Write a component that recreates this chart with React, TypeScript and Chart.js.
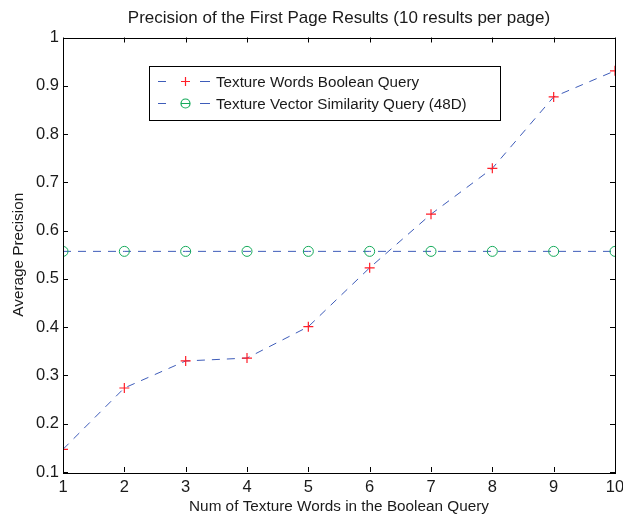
import React, { useEffect, useRef } from "react";
import { Chart, registerables } from "chart.js";

Chart.register(...registerables);

const xValues = [1, 2, 3, 4, 5, 6, 7, 8, 9, 10];
const booleanQuery = [0.147, 0.274, 0.33, 0.336, 0.401, 0.523, 0.634, 0.729, 0.877, 0.931];
const vectorQuery = [0.557, 0.557, 0.557, 0.557, 0.557, 0.557, 0.557, 0.557, 0.557, 0.557];
const yTickLabels = ["0.1", "0.2", "0.3", "0.4", "0.5", "0.6", "0.7", "0.8", "0.9", "1"];
const seriesNames = ["Texture Words Boolean Query", "Texture Vector Similarity Query (48D)"];
const titleText = "Precision of the First Page Results (10 results per page)";
const xTitle = "Num of Texture Words in the Boolean Query";
const yTitle = "Average Precision";

const FONT = "'Liberation Sans', Arial, sans-serif";
const TEXT = "#1a1a1a";
const BLUE = "rgb(62,92,185)";
const RED = "rgb(255,30,40)";
const GREEN = "rgb(20,170,90)";

const frame = {
  id: "matlabFrame",
  afterDraw(chart: any) {
    const { ctx, chartArea } = chart;
    const xs = chart.scales.x;
    const ys = chart.scales.y;
    ctx.save();
    ctx.setLineDash([]);

    // title centred over the plot area
    ctx.fillStyle = TEXT;
    ctx.font = `17px ${FONT}`;
    ctx.textAlign = "center";
    ctx.textBaseline = "middle";
    ctx.fillText(titleText, (chartArea.left + chartArea.right) / 2, 18.5);

    ctx.strokeStyle = "#000";
    ctx.lineWidth = 1;
    ctx.strokeRect(Math.round(chartArea.left) + 0.5, Math.round(chartArea.top) + 0.5,
      Math.round(chartArea.right - chartArea.left), Math.round(chartArea.bottom - chartArea.top));
    const tl = 5;
    ctx.beginPath();
    xValues.forEach((v) => {
      const px = Math.round(xs.getPixelForValue(v)) + 0.5;
      ctx.moveTo(px, chartArea.bottom);
      ctx.lineTo(px, chartArea.bottom - tl);
      ctx.moveTo(px, chartArea.top);
      ctx.lineTo(px, chartArea.top + tl);
    });
    yTickLabels.forEach((l) => {
      const py = Math.round(ys.getPixelForValue(parseFloat(l))) + 0.5;
      ctx.moveTo(chartArea.left, py);
      ctx.lineTo(chartArea.left + tl, py);
      ctx.moveTo(chartArea.right, py);
      ctx.lineTo(chartArea.right - tl, py);
    });
    ctx.stroke();

    // legend box
    const bx = 149.5, by = 66.5, bw = 351, bh = 54;
    ctx.fillStyle = "#fff";
    ctx.fillRect(bx, by, bw, bh);
    ctx.strokeStyle = "#000";
    ctx.strokeRect(bx, by, bw, bh);
    const rows = [81.5, 103.5];
    rows.forEach((ry, i) => {
      ctx.strokeStyle = BLUE;
      ctx.lineWidth = 1.2;
      ctx.beginPath();
      ctx.moveTo(158, ry); ctx.lineTo(166, ry);
      ctx.moveTo(200, ry); ctx.lineTo(210, ry);
      ctx.stroke();
      const mx = 185.5;
      if (i === 0) {
        ctx.strokeStyle = RED;
        ctx.beginPath();
        ctx.moveTo(mx - 4.5, ry); ctx.lineTo(mx + 4.5, ry);
        ctx.moveTo(mx, ry - 4.5); ctx.lineTo(mx, ry + 4.5);
        ctx.stroke();
      } else {
        ctx.strokeStyle = GREEN;
        ctx.beginPath();
        ctx.arc(mx, ry, 4.5, 0, Math.PI * 2);
        ctx.moveTo(mx - 4.5, ry); ctx.lineTo(mx + 4.5, ry);
        ctx.stroke();
      }
      ctx.fillStyle = TEXT;
      ctx.font = `15.2px ${FONT}`;
      ctx.textBaseline = "middle";
      ctx.textAlign = "left";
      ctx.fillText(seriesNames[i], 216, ry + 1);
    });
    ctx.restore();
  },
};

export default function App() {
  const ref = useRef<HTMLCanvasElement | null>(null);
  useEffect(() => {
    document.body.style.margin = "0";
    const canvas = ref.current!;
    const chart = new Chart(canvas, {
      type: "line",
      data: {
        datasets: [
          {
            label: seriesNames[0],
            data: xValues.map((x, i) => ({ x, y: booleanQuery[i] })),
            borderColor: BLUE,
            borderWidth: 1,
            borderDash: [8, 7],
            pointStyle: "cross",
            pointRadius: 5,
            pointBorderColor: RED,
            pointBorderWidth: 1.2,
            pointBackgroundColor: RED,
            fill: false,
            tension: 0,
          },
          {
            label: seriesNames[1],
            data: xValues.map((x, i) => ({ x, y: vectorQuery[i] })),
            borderColor: BLUE,
            borderWidth: 1,
            borderDash: [8, 7],
            pointStyle: "circle",
            pointRadius: 5,
            pointBorderColor: GREEN,
            pointBorderWidth: 1,
            pointBackgroundColor: "rgba(0,0,0,0)",
            fill: false,
            tension: 0,
          },
        ],
      },
      plugins: [frame],
      options: {
        animation: false,
        responsive: false,
        maintainAspectRatio: false,
        layout: { padding: { left: 0, right: 8, top: 37.5, bottom: 0 } },
        plugins: {
          legend: { display: false },
          tooltip: { enabled: false },
          title: { display: false },
        },
        scales: {
          x: {
            type: "linear",
            min: 1,
            max: 10,
            border: { display: false },
            grid: { display: false, drawTicks: false },
            ticks: {
              stepSize: 1,
              color: TEXT,
              font: { family: FONT, size: 16.5 },
              padding: 6,
              maxRotation: 0,
            },
            title: {
              display: true,
              text: xTitle,
              color: TEXT,
              font: { family: FONT, size: 15.3 },
              padding: { top: 0, bottom: 0 },
            },
            afterFit: (s: any) => { s.height = 44; s.paddingLeft = 0; s.paddingRight = 0; },
          },
          y: {
            type: "linear",
            min: 0.1,
            max: 1,
            border: { display: false },
            grid: { display: false, drawTicks: false },
            ticks: {
              stepSize: 0.1,
              color: TEXT,
              font: { family: FONT, size: 16.5 },
              padding: 4,
              callback: (_v: any, i: number) => yTickLabels[i],
            },
            title: {
              display: true,
              text: yTitle,
              color: TEXT,
              font: { family: FONT, size: 15.3 },
              padding: { top: 10, bottom: 0 },
            },
            afterFit: (s: any) => { s.width = 63; s.paddingTop = 0; s.paddingBottom = 0; },
          },
        },
      },
    });
    return () => chart.destroy();
  }, []);
  return <canvas ref={ref} width={623} height={516} style={{ display: "block" }} />;
}
